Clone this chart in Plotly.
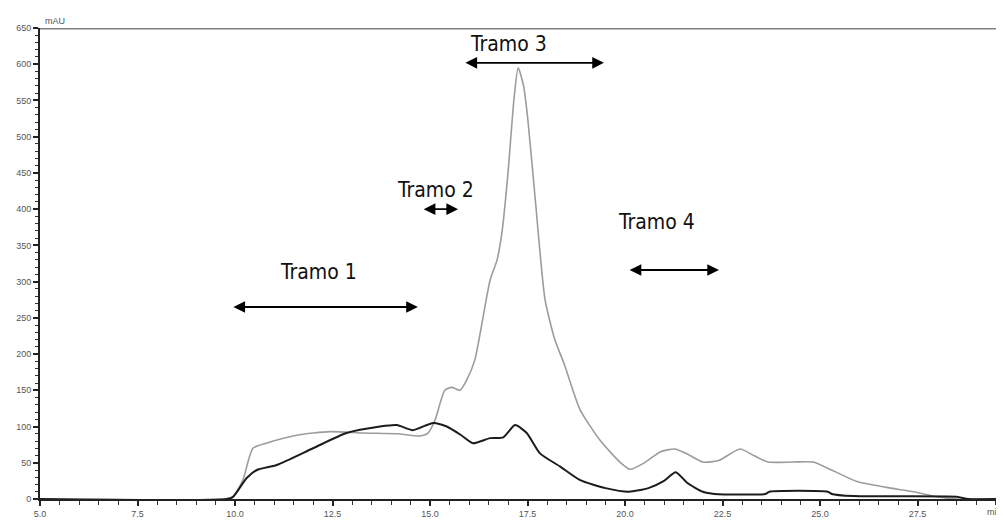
import plotly.graph_objects as go

# Gray trace (upper chromatogram)
gray_t = [5, 9.7, 9.95, 10.2, 10.46, 10.8, 11.58, 12.44, 13.28, 14.15, 14.74, 14.95, 15.13, 15.38,
          15.56, 15.77, 15.94, 16.15, 16.54, 16.72, 16.85, 17.0, 17.15, 17.26, 17.4, 17.51, 17.7,
          17.95, 18.2, 18.45, 18.85, 19.36, 19.87, 20.13, 20.5, 20.9, 21.28, 21.6, 22.0, 22.4,
          22.95, 23.3, 23.67, 24.3, 24.82, 25.3, 25.95, 26.7, 27.4, 28.0, 28.5, 29.7]
gray_v = [0, 0, 3, 26, 70, 77, 88, 93, 91, 90, 87, 91, 109, 150,
          154, 150, 164, 192, 302, 330, 370, 450, 550, 595, 570, 523, 413,
          275, 220, 185, 123, 81, 51, 41, 50, 65, 69, 62, 51, 53,
          69, 60, 51, 51, 51, 40, 24, 16, 10, 3, 0, 0]

# Black trace (lower chromatogram)
black_t = [5, 9.8, 9.95, 10.3, 10.56, 11.07, 12.0, 12.86, 13.72, 14.15, 14.56, 15.08, 15.43, 15.8,
           16.1, 16.54, 16.88, 17.18, 17.48, 17.82, 18.33, 18.85, 19.5, 20.1, 20.6, 21.0, 21.3,
           21.6, 22.0, 22.3, 23.6, 23.7, 25.2, 25.3, 25.85, 28.5, 28.8, 29.7]
black_v = [0, 0, 3, 29, 40, 47, 70, 91, 100, 102, 95, 105, 100, 88,
           77, 84, 85, 102, 91, 63, 45, 26, 15, 10, 15, 25, 37,
           22, 10, 7, 7, 10, 10, 7, 4, 3, 0, 0]

# Section labels: name, arrow start, arrow end, arrow level, text x, text y
tramo_names = ["Tramo 1", "Tramo 2", "Tramo 3", "Tramo 4"]
tramo_x0 = [9.92, 14.8, 15.87, 20.08]
tramo_x1 = [14.69, 15.72, 19.46, 22.41]
tramo_y = [265, 400, 602, 316]
label_x = [12.13, 15.13, 17.0, 20.8]
label_y = [313, 426, 628, 382]

x_ticks = [5.0, 7.5, 10.0, 12.5, 15.0, 17.5, 20.0, 22.5, 25.0, 27.5]
y_ticks = list(range(0, 651, 50))

fig = go.Figure()
fig.add_trace(go.Scatter(x=gray_t, y=gray_v, mode="lines",
                         line=dict(color="#9c9c9c", width=1.6, shape="spline", smoothing=0.6),
                         hoverinfo="skip", showlegend=False))
fig.add_trace(go.Scatter(x=black_t, y=black_v, mode="lines",
                         line=dict(color="#1c1c1c", width=2, shape="spline", smoothing=0.6),
                         hoverinfo="skip", showlegend=False))

font_txt = dict(family="DejaVu Sans Condensed, Liberation Sans Narrow, Arial Narrow, Liberation Sans",
                size=21, color="#111")
for name, x0, x1, yy, lx, ly in zip(tramo_names, tramo_x0, tramo_x1, tramo_y, label_x, label_y):
    fig.add_annotation(x=x1, y=yy, ax=x0, ay=yy, xref="x", yref="y", axref="x", ayref="y",
                       text="", showarrow=True, arrowhead=2, arrowside="end+start",
                       arrowsize=1.3, arrowwidth=1.8, arrowcolor="#000", standoff=0, startstandoff=0)
    fig.add_annotation(x=lx, y=ly, xref="x", yref="y", text=name,
                       showarrow=False, font=font_txt)

# top border line
fig.add_shape(type="line", xref="paper", yref="y", x0=0, x1=1, y0=650, y1=650,
              line=dict(color="#808080", width=3))

tick_font = dict(family="Liberation Sans, Arial", size=9, color="#555")
fig.add_annotation(xref="paper", yref="paper", x=0.003, y=1.0, xanchor="left", yanchor="bottom",
                   text="mAU", showarrow=False, font=tick_font)
fig.add_annotation(xref="paper", yref="paper", x=1.0, y=-0.012, xanchor="right", yanchor="top",
                   text="min", showarrow=False, font=tick_font)

# page body has an 8px margin: shrink figure so the plot area lands where the reference has it
fig.update_layout(
    width=996, height=512,
    margin=dict(l=32, r=0, t=20, b=21),
    paper_bgcolor="white", plot_bgcolor="white",
    xaxis=dict(range=[5, 5 + 964 / 39], tickvals=x_ticks, ticktext=[f"{v:.1f}" for v in x_ticks],
               showgrid=False, zeroline=False, showline=True, linecolor="#222", linewidth=2,
               ticks="outside", ticklen=5, tickwidth=1.5, tickcolor="#222", tickfont=tick_font,
               minor=dict(dtick=0.5, tick0=5, ticks="outside", ticklen=4, tickcolor="#333", tickwidth=1)),
    yaxis=dict(range=[0, 650], tickvals=y_ticks, showgrid=False, zeroline=False,
               showline=True, linecolor="#222", linewidth=2,
               ticks="outside", ticklen=5, tickwidth=1.5, tickcolor="#222", tickfont=tick_font,
               minor=dict(dtick=10, ticks="outside", ticklen=3, tickcolor="#333", tickwidth=1)),
)

fig.write_html("out.html")
